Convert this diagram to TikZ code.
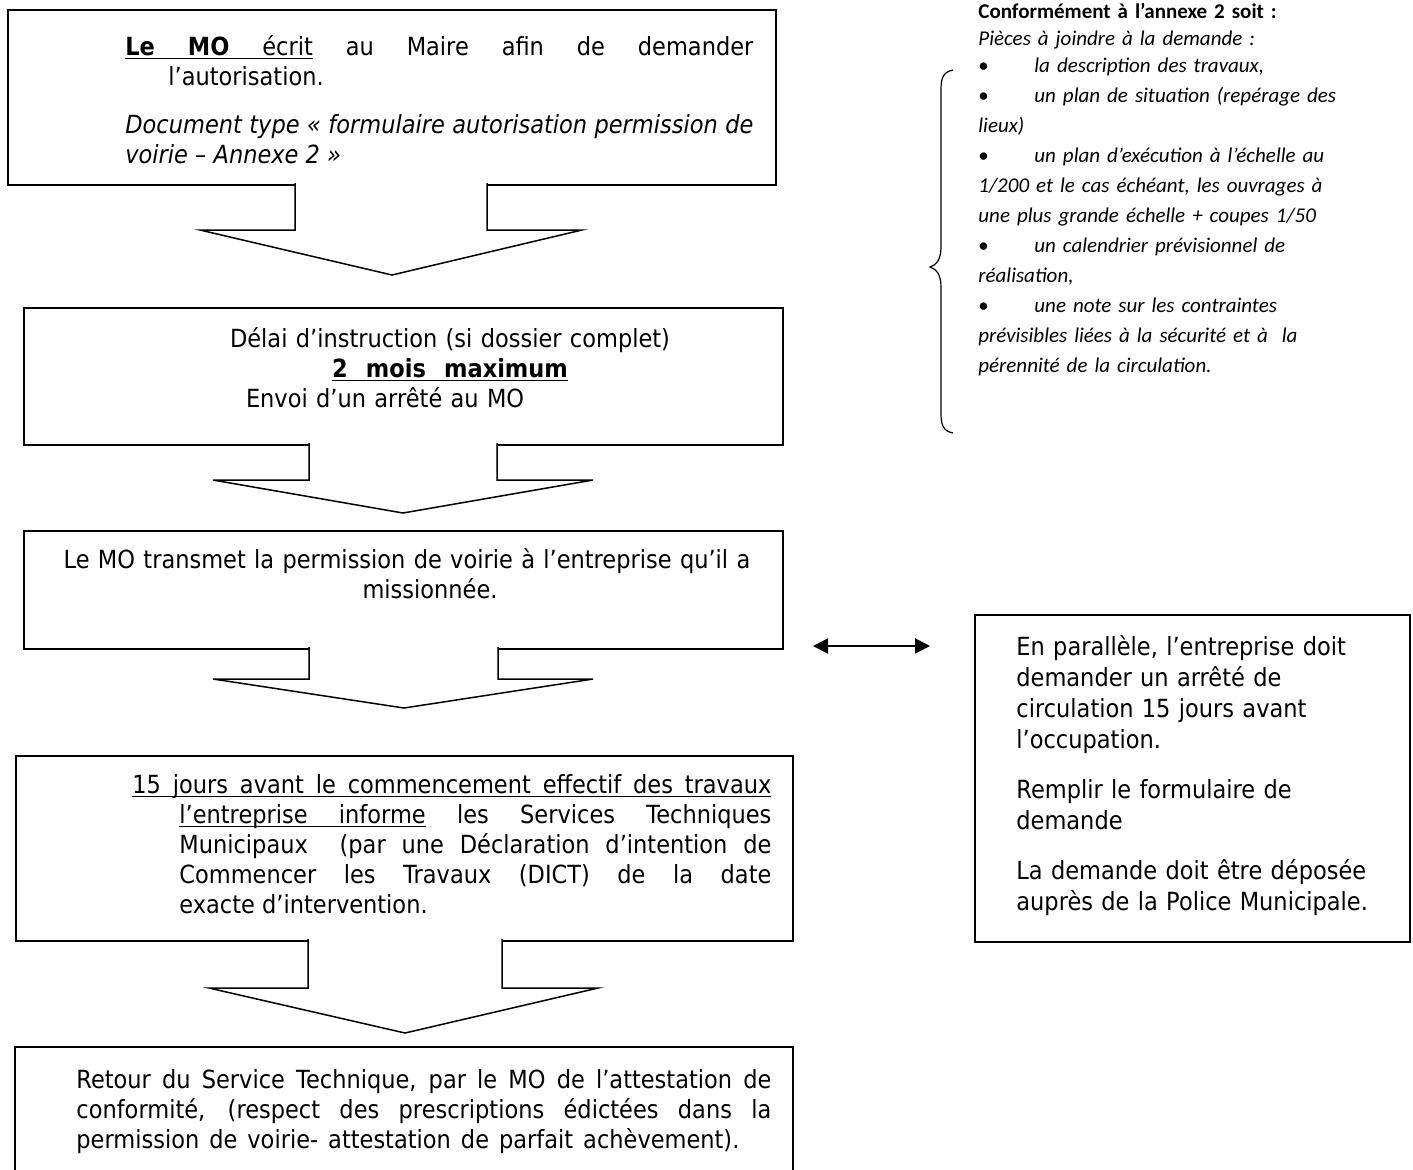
\documentclass[tikz,border=0pt]{standalone}
\usepackage{fontspec}
\setmainfont{DejaVu Sans}[FakeStretch=0.9]
\newfontfamily\calibri{Carlito}
\usetikzlibrary{arrows.meta}
\hyphenpenalty=10000
\exhyphenpenalty=10000
\tolerance=10000

% underlined words and underlined stretchable spaces
\newcommand\uw[1]{\setbox0\hbox{#1}\rlap{\vrule height -1.3pt depth 2pt width\wd0}\box0\relax}
\newcommand\us{\leaders\hrule height -1.3pt depth 2pt\hskip\fontdimen2\font plus\fontdimen3\font minus\fontdimen4\font\relax}
\newcommand\souligne[1]{\souligneA#1 \relax}
\def\souligneA#1 #2\relax{\uw{#1}\ifx\relax#2\relax\else\us\souligneA#2\relax\fi}

\tikzset{
  cadre/.style={line width=0.75pt},
  fleche/.style={line width=0.75pt, fill=white},
  texte/.style={anchor=base west, inner sep=0pt, align=justify,
    font=\fontsize{12.5}{15}\selectfont},
  note/.style={anchor=base west, inner sep=0pt, align=left,
    font=\calibri\fontsize{10.5}{15}\selectfont},
}

\begin{document}
\begin{tikzpicture}[x=0.5pt, y=-0.5pt]
\useasboundingbox (0,0) rectangle (1413,1169);

% Boxes of the procedure
\draw[cadre] (8,10) rectangle (776,185);      % demande
\draw[cadre] (24,308) rectangle (783,445);    % instruction
\draw[cadre] (24,531) rectangle (783,649);    % transmission
\draw[cadre] (16,756) rectangle (793,941);    % DICT
\draw[cadre] (15,1175) -- (15,1047) -- (793,1047) -- (793,1175); % retour
\draw[cadre] (975,615) rectangle (1410,942);  % arrete de circulation

% Block arrows between the boxes
\foreach \ya/\yb/\yc/\sg/\sd/\hg/\hd/\xp in {
  185/230/275/295/487/200/582/392,
  445/480/513/309/497/213/593/403,
  649/679/708/309/498/213/593/404,
  941/988/1033/308/502/209/598/405}
{
  \draw[fleche] (\sg,\ya-2) -- (\sg,\yb) -- (\hg,\yb) -- (\xp,\yc)
    -- (\hd,\yb) -- (\sd,\yb) -- (\sd,\ya-2);
}

% Texts inside the boxes
\node[texte, text width=314pt] (demande) at (125,55)
  {\hangindent=21.5pt\hangafter=1
   \souligne{\textbf{Le} \textbf{MO} écrit} au Maire afin de demander\linebreak
   l’autorisation.\par\vspace{9pt}
   \itshape Document type «~formulaire autorisation permission de\linebreak
   voirie – Annexe 2~»\par};

\node[texte, anchor=base, align=center, text width=250pt] (delai) at (450,347)
  {Délai d’instruction (si dossier complet)\\
   \textbf{\souligne{2 mois maximum}}\\
   \makebox[250pt][l]{\hspace*{23pt}Envoi d’un arrêté au MO}};

\node[texte, anchor=base, align=center, text width=360pt] (transmet) at (407,568)
  {Le MO transmet la permission de voirie à l’entreprise qu’il a\\
   \hspace*{23pt}missionnée.};

\node[texte, text width=319.5pt] (dict) at (132,793)
  {\hangindent=23.5pt\hangafter=1
   \souligne{15 jours avant le commencement effectif des travaux}\linebreak
   \souligne{l’entreprise informe} les Services Techniques\linebreak
   Municipaux~ (par une Déclaration d’intention de\linebreak
   Commencer les Travaux (DICT) de la date\linebreak
   exacte d’intervention.\par};

\node[texte, text width=347.5pt] (retour) at (76,1088)
  {Retour du Service Technique, par le MO de l’attestation de\linebreak
   conformité, (respect des prescriptions édictées dans la\linebreak
   permission de voirie- attestation de parfait achèvement).{\parfillskip=0pt plus 20pt\par}};

\node[texte, align=left, text width=192pt, font=\fontsize{12.5}{15.5}\selectfont] (parallele) at (1016,655)
  {En parallèle, l’entreprise doit\\
   demander un arrêté de\\
   circulation 15 jours avant\\
   l’occupation.\\[9.5pt]
   Remplir le formulaire de\\
   demande\\[9.5pt]
   La demande doit être déposée\\
   auprès de la Police Municipale.};

% Annexe 2 list with its brace
\node[note, text width=180pt] (annexe) at (978,18)
  {\textbf{Conformément à l’annexe 2 soit~:}\\[-1.5pt]
   \itshape Pièces à joindre à la demande~:\\[-1.5pt]
   \makebox[28pt][l]{\upshape •}la description des travaux,\\
   \makebox[28pt][l]{\upshape •}un plan de situation (repérage des\\
   lieux)\\
   \makebox[28pt][l]{\upshape •}un plan d’exécution à l’échelle au\\
   1/200 et le cas échéant, les ouvrages à\\
   une plus grande échelle + coupes 1/50\\
   \makebox[28pt][l]{\upshape •}un calendrier prévisionnel de\\
   réalisation,\\
   \makebox[28pt][l]{\upshape •}une note sur les contraintes\\
   prévisibles liées à la sécurité et à~ la\\
   pérennité de la circulation.};

\draw[line width=0.6pt] (953,70) .. controls (943,72) and (941,78) .. (941,90)
  -- (941,247) .. controls (941,260) and (936,265) .. (930,267)
  .. controls (936,269) and (941,274) .. (941,287)
  -- (941,413) .. controls (941,425) and (943,431) .. (953,433);

% Double arrow towards the traffic order box
\coordinate (gauche) at (813,646);
\coordinate (droite) at (930,646);
\draw[line width=1pt, {Triangle[length=7.5pt,width=7.5pt]}-{Triangle[length=7.5pt,width=7.5pt]}]
  (gauche) -- (droite);

\end{tikzpicture}
\end{document}
